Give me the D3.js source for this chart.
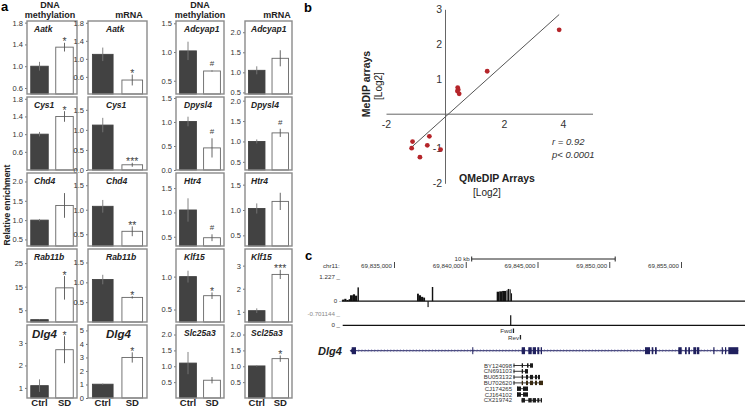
<!DOCTYPE html>
<html><head><meta charset="utf-8">
<script src="https://cdn.jsdelivr.net/npm/d3@7"></script>
<style>
body{margin:0;background:#fff}
svg{display:block;font-family:"Liberation Sans",Arial,sans-serif}
</style>
</head><body>
<svg id="fig" width="745" height="408"></svg>
<script>
// ================= Panel a data =================
const groups = ["Ctrl", "SD"];
const columnHeaders = [["DNA","methylation"],["mRNA"],["DNA","methylation"],["mRNA"]];
const geneNames = [
  "Aatk","Aatk","Adcyap1","Adcyap1",
  "Cys1","Cys1","Dpysl4","Dpysl4",
  "Chd4","Chd4","Htr4","Htr4",
  "Rab11b","Rab11b","Klf15","Klf15",
  "Dlg4","Dlg4","Slc25a3","Scl25a3"];
const ctrlMean = [1.00,1.10,1.02,1.05, 1.00,1.12,1.01,1.00, 1.00,1.07,1.05,1.03, 1.0,1.07,1.00,1.05, 1.10,1.02,1.10,1.01];
const ctrlErr  = [0.08,0.15,0.16,0.10, 0.05,0.18,0.10,0.05, 0.03,0.13,0.24,0.10, 0.2,0.12,0.09,0.10, 0.28,0.05,0.35,0.02];
const sdMean   = [1.35,0.53,0.67,1.35, 1.40,0.13,0.46,1.21, 1.38,0.56,0.48,1.17, 14.5,0.62,0.71,2.62, 2.70,3.00,0.56,1.24];
const sdErr    = [0.08,0.12,0.01,0.20, 0.12,0.05,0.20,0.10, 0.32,0.10,0.07,0.17, 5.0,0.03,0.05,0.20, 0.60,0.38,0.10,0.10];
const sigMarks = ["*","*","#","", "*","***","#","#", "","**","#","", "*","*","*","***", "*","*","","*"];
const yDomains = [
  [0.49,1.83],[0.22,1.84],[0.27,1.54],[0.46,2.28],
  [0.19,1.84],[0,1.82],[0,1.52],[0.3,2.09],
  [0.33,2.22],[0.26,1.75],[0.31,1.81],[0.29,1.73],
  [0,31],[0,1.84],[0.31,1.42],[0.56,3.72],
  [0.55,3.8],[0,5.4],[0,2.3],[0,2.3]];
const yTicks = [
  [0.6,1.0,1.4,1.8],[0.6,1.0,1.4,1.8],[0.5,1.0,1.5],[0.5,1.0,1.5,2.0],
  [0.6,1.0,1.4,1.8],[0,0.5,1.0,1.5],[0,0.5,1.0,1.5],[0.5,1.0,1.5,2.0],
  [0.5,1.0,1.5,2.0],[0.5,1.0,1.5],[0.5,1.0,1.5],[0.5,1.0,1.5],
  [5,15,25],[0.5,1.0,1.5],[0.5,1.0],[1,2,3],
  [1,2,3],[0,1,2,3,4,5],[0.5,1.0,1.5,2.0],[0.5,1.0,1.5,2.0]];

// ================= Panel b data =================
const qmedipX = [3.87,1.43,0.43,0.45,0.42,0.48,-1.10,-1.13,-0.53,-0.60,-0.85,-0.15];
const medipY  = [2.41,1.22,0.75,0.69,0.65,0.57,-0.80,-0.99,-0.65,-0.91,-1.25,-1.03];
const fitX = [-1.13, 3.87];
const fitY = [-0.96, 2.85];
const bXTicks = [-2, 2, 4];
const bYTicks = [-2, -1, 1, 2, 3];

// ================= Panel c data =================
const coordTicks = [69835000, 69840000, 69845000, 69850000, 69855000];
const scaleBarBp = [69840380, 69850380];
const signalStart = [69831350,69831500,69831650,69831800,69831900,69832100,69832250,69832420,
                     69836570,69836700,69836850,69837000,69837300,69837600,
                     69842120,69842300,69842500,69842800,69842890,69843030,69843120];
const signalEnd   = [69831500,69831650,69831800,69831900,69832100,69832250,69832400,69832520,
                     69836700,69836850,69837000,69837130,69837380,69837700,
                     69842300,69842500,69842770,69842880,69843000,69843100,69843190];
const signalVal   = [0.08,0.12,0.06,0.10,0.30,0.35,0.28,0.70,
                     0.38,0.30,0.22,0.18,-0.30,0.72,
                     0.48,0.50,0.52,0.55,0.62,0.60,0.40];
const primerMark = [69843098];
const geneSpan = [69832017, 69858958];
const exonStart = [69832017,69840420,69843864,69844324,69844631,69844951,69845188,69852456,69852923,69853153,69854777,69855244,69855474,69855822,69856059,69857216,69857801,69858031,69858261];
const exonEnd   = [69832317,69840490,69844094,69844561,69844861,69845091,69845279,69852805,69853035,69853272,69855014,69855362,69855592,69856010,69856241,69857300,69857885,69858115,69858958];
const transcripts = ["BY124098","CN691103","BU053132","BU702620","CJ174265","CJ164102","CX219742"];
const txStart = [69843293,69843293,69843293,69843293,69843537,69843537,69843864];
const txEnd   = [69844652,69844303,69845139,69845348,69844303,69844303,69845279];
const txExons = [
  [[69843864,69843955],[69844233,69844338],[69844442,69844652]],
  [[69843864,69843955],[69844094,69844303]],
  [[69843864,69843955],[69844163,69844303],[69844442,69844652],[69844791,69844930],[69845000,69845139]],
  [[69843864,69843955],[69844163,69844303],[69844442,69844652],[69844791,69844930],[69845070,69845348]],
  [[69843537,69843815],[69843955,69844303]],
  [[69843537,69843815],[69843955,69844303]],
  [[69843864,69844094],[69844324,69844561],[69844631,69844861],[69844951,69845091],[69845188,69845279]]];

// ================= Drawing =================
const svg = d3.select("#fig");
const txtCol = "#222";

// ---------- Panel a ----------
svg.append("text").attr("x",1).attr("y",11).attr("font-size",13).attr("font-weight","bold").text("a");
const colX = [27, 88, 176, 245], colW = [50, 59, 48, 47];
const rowY = [21, 97, 173, 249, 325], rowH = 73;
const headerCx = [50, 129, 200, 277];
const labelX = [34, 106, 184, 251];

columnHeaders.forEach((lines, c) => {
  const t = svg.append("text").attr("text-anchor","middle").attr("font-size",9).attr("font-weight","bold").attr("fill",txtCol);
  if (lines.length === 2) {
    t.append("tspan").attr("x",headerCx[c]).attr("y",8).text(lines[0]);
    t.append("tspan").attr("x",headerCx[c]).attr("y",17.5).text(lines[1]);
  } else {
    t.append("tspan").attr("x",headerCx[c]).attr("y",17.5).text(lines[0]);
  }
});

svg.append("text").attr("transform","translate(10,205) rotate(-90)").attr("text-anchor","middle")
  .attr("font-size",8.5).attr("font-weight","bold").attr("fill",txtCol).text("Relative enrichment");

geneNames.forEach((g, i) => {
  const r = Math.floor(i/4), c = i % 4;
  const x0 = colX[c], y0 = rowY[r], w = colW[c];
  const y = d3.scaleLinear().domain(yDomains[i]).range([y0 + rowH, y0]);
  const x = d3.scaleBand().domain(groups).range([x0, x0 + w]).paddingInner(0.3).paddingOuter(0.15);
  const allInt = yTicks[i].every(v => Number.isInteger(v)) && yDomains[i][1] > 3;
  const fmt = allInt ? d3.format("d") : d3.format(".1f");
  const ax = svg.append("g").attr("transform", `translate(${x0},0)`)
    .call(d3.axisLeft(y).tickValues(yTicks[i]).tickSize(2).tickPadding(2).tickFormat(fmt));
  ax.select(".domain").remove();
  ax.selectAll("line").attr("stroke","#777");
  ax.selectAll("text").attr("font-size",7.5).attr("fill","#333").attr("font-family","Liberation Sans, Arial, sans-serif");

  const vals = [ctrlMean[i], sdMean[i]], errs = [ctrlErr[i], sdErr[i]];
  const base = y(yDomains[i][0]);
  groups.forEach((gr, k) => {
    svg.append("rect").attr("x", x(gr)).attr("y", y(vals[k]))
      .attr("width", x.bandwidth()).attr("height", base - y(vals[k]))
      .attr("fill", k === 0 ? "#424242" : "#fff")
      .attr("stroke", k === 0 ? "#424242" : "#666").attr("stroke-width", 0.9);
    svg.append("line").attr("x1", x(gr) + x.bandwidth()/2).attr("x2", x(gr) + x.bandwidth()/2)
      .attr("y1", y(vals[k] - errs[k])).attr("y2", y(vals[k] + errs[k]))
      .attr("stroke", k === 0 ? "#777" : "#555").attr("stroke-width", 0.9);
  });
  // box
  svg.append("rect").attr("x", x0).attr("y", y0).attr("width", w).attr("height", rowH)
    .attr("fill","none").attr("stroke","#8a8a8a").attr("stroke-width",1.4);
  // gene label
  const big = g === "Dlg4";
  svg.append("text").attr("x", labelX[c] + (big && c === 0 ? -2 : 0)).attr("y", y0 + (big ? 13 : 10.5))
    .attr("font-size", big ? 11.5 : 8.5).attr("font-weight","bold").attr("font-style","italic")
    .attr("fill", txtCol).text(g);
  // significance
  const m = sigMarks[i];
  if (m) {
    const top = y(sdMean[i] + sdErr[i]);
    svg.append("text").attr("x", x("SD") + x.bandwidth()/2).attr("y", m === "#" ? top - 4 : top + 2.5)
      .attr("text-anchor","middle").attr("font-size", m === "#" ? 8 : 10.5).attr("fill","#444").text(m);
  }
  // x labels on last row
  if (r === 4) {
    groups.forEach(gr => {
      svg.append("text").attr("x", x(gr) + x.bandwidth()/2).attr("y", 406)
        .attr("text-anchor","middle").attr("font-size",9.5).attr("font-weight","bold").attr("fill",txtCol).text(gr);
    });
  }
});

// ---------- Panel b ----------
svg.append("text").attr("x",304).attr("y",12).attr("font-size",13).attr("font-weight","bold").text("b");
const bx = d3.scaleLinear().domain([-2, 5]).range([386, 592.5]);
const by = d3.scaleLinear().domain([-2, 3]).range([183.3, 9.3]);
const plainFmt = d => String(d);
const gxAx = svg.append("g").attr("transform", `translate(0,${by(0)})`)
  .call(d3.axisBottom(bx).tickValues(bXTicks).tickSize(0).tickPadding(5).tickSizeOuter(0).tickFormat(plainFmt));
const gyAx = svg.append("g").attr("transform", `translate(${bx(0)},0)`)
  .call(d3.axisLeft(by).tickValues(bYTicks).tickSize(0).tickPadding(3).tickSizeOuter(0).tickFormat(plainFmt));
[gxAx, gyAx].forEach(a => {
  a.select(".domain").attr("stroke","#666").attr("stroke-width",1);
  a.selectAll("text").attr("font-size",10.5).attr("fill","#333").attr("font-family","Liberation Sans, Arial, sans-serif");
});
gxAx.selectAll("text").attr("dy","0.85em");

svg.append("line").attr("x1", bx(fitX[0])).attr("y1", by(fitY[0])).attr("x2", bx(fitX[1])).attr("y2", by(fitY[1]))
  .attr("stroke","#555").attr("stroke-width",1);
svg.selectAll("circle.pt").data(qmedipX).enter().append("circle").attr("class","pt")
  .attr("cx", d => bx(d)).attr("cy", (d, i) => by(medipY[i])).attr("r", 2.4).attr("fill","#b5252a");

svg.append("text").attr("transform","translate(370,84) rotate(-90)").attr("text-anchor","middle")
  .attr("font-size",10.5).attr("font-weight","bold").attr("fill",txtCol).text("MeDIP arrays");
svg.append("text").attr("transform","translate(382,86) rotate(-90)").attr("text-anchor","middle")
  .attr("font-size",10).attr("fill",txtCol).text("[Log2]");
svg.append("text").attr("x",497).attr("y",182).attr("text-anchor","middle")
  .attr("font-size",10.5).attr("font-weight","bold").attr("fill",txtCol).text("QMeDIP Arrays");
svg.append("text").attr("x",487).attr("y",196).attr("text-anchor","middle")
  .attr("font-size",10).attr("fill",txtCol).text("[Log2]");
svg.append("text").attr("x",552).attr("y",145).attr("font-size",9.5).attr("font-style","italic").attr("fill","#333").text("r = 0.92");
svg.append("text").attr("x",552).attr("y",158).attr("font-size",9.5).attr("font-style","italic").attr("fill","#333").text("p< 0.0001");

// ---------- Panel c ----------
svg.append("text").attr("x",305).attr("y",260).attr("font-size",13).attr("font-weight","bold").text("c");
const gx = d3.scaleLinear().domain([69835000, 69855000]).range([394.5, 681.5]);
const small = 6.2;
svg.append("text").attr("x",323).attr("y",268).attr("font-size",small).attr("fill","#333").text("chr11:");
coordTicks.forEach(t => {
  svg.append("text").attr("x", gx(t) - 2.5).attr("y", 268).attr("text-anchor","end")
    .attr("font-size", small).attr("fill","#333").text(d3.format(",")(t));
  svg.append("line").attr("x1", gx(t)).attr("x2", gx(t)).attr("y1", 262).attr("y2", 268)
    .attr("stroke","#333").attr("stroke-width",0.9);
});
// scale bar
svg.append("line").attr("x1", gx(scaleBarBp[0])).attr("x2", gx(scaleBarBp[1])).attr("y1",259).attr("y2",259).attr("stroke","#222").attr("stroke-width",1);
scaleBarBp.forEach(b => svg.append("line").attr("x1", gx(b)).attr("x2", gx(b)).attr("y1",256.5).attr("y2",261.5).attr("stroke","#222").attr("stroke-width",1));
svg.append("text").attr("x", gx(scaleBarBp[0]) - 2).attr("y", 261).attr("text-anchor","end").attr("font-size",small).attr("fill","#333").text("10 kb");

// signal track
const ty = d3.scaleLinear().domain([-0.701144, 1.227]).range([315, 277]);
svg.append("text").attr("x",340).attr("y",279).attr("text-anchor","end").attr("font-size",small).attr("fill","#333").text("1.227 _");
svg.append("text").attr("x",341).attr("y",ty(0) + 2).attr("text-anchor","end").attr("font-size",small).attr("fill","#333").text("0 -");
svg.append("text").attr("x",340).attr("y",316).attr("text-anchor","end").attr("font-size",small).attr("fill","#888").text("-0.701144 _");
svg.selectAll("rect.sig").data(signalVal).enter().append("rect").attr("class","sig")
  .attr("x", (d, i) => gx(signalStart[i]))
  .attr("width", (d, i) => Math.max(0.9, gx(signalEnd[i]) - gx(signalStart[i])))
  .attr("y", d => Math.min(ty(d), ty(0)))
  .attr("height", d => Math.abs(ty(d) - ty(0)))
  .attr("fill","#111");
svg.append("line").attr("x1",341.7).attr("x2",745).attr("y1",ty(0)).attr("y2",ty(0)).attr("stroke","#111").attr("stroke-width",1.2);

// primer track
const p2 = 325.3;
svg.append("text").attr("x",340).attr("y",p2 + 1.5).attr("text-anchor","end").attr("font-size",small).attr("fill","#333").text("0 _");
svg.append("line").attr("x1",342.7).attr("x2",745).attr("y1",p2).attr("y2",p2).attr("stroke","#111").attr("stroke-width",1.2);
primerMark.forEach(p => svg.append("line").attr("x1",gx(p)).attr("x2",gx(p)).attr("y1",p2).attr("y2",p2 - 10).attr("stroke","#111").attr("stroke-width",1.2));
svg.append("text").attr("x",512).attr("y",333).attr("text-anchor","end").attr("font-size",small).attr("fill","#333").text("Fwd");
svg.append("rect").attr("x",512.8).attr("y",328.5).attr("width",1.3).attr("height",4.5).attr("fill","#222");
svg.append("text").attr("x",519).attr("y",339.5).attr("text-anchor","end").attr("font-size",small).attr("fill","#333").text("Rev");
svg.append("rect").attr("x",519.8).attr("y",335).attr("width",1.3).attr("height",4.5).attr("fill","#222");

// gene track
const gy = 350.7, navy = "#20205e";
svg.append("text").attr("x",318).attr("y",355).attr("font-size",11).attr("font-weight","bold").attr("font-style","italic").attr("fill",txtCol).text("Dlg4");
svg.append("line").attr("x1", gx(geneSpan[0])).attr("x2", gx(geneSpan[1])).attr("y1", gy).attr("y2", gy).attr("stroke", navy).attr("stroke-width", 1);
const chev = d3.range(gx(geneSpan[0]) + 6, gx(geneSpan[1]) - 2, 3.2);
svg.append("path").attr("d", chev.map(cx => `M${cx+1.3},${gy-1.4}L${cx},${gy}L${cx+1.3},${gy+1.4}`).join(""))
  .attr("fill","none").attr("stroke","#6a6aa8").attr("stroke-width",0.6);
svg.selectAll("rect.exon").data(exonStart).enter().append("rect").attr("class","exon")
  .attr("x", d => gx(d)).attr("width", (d, i) => Math.max(1, gx(exonEnd[i]) - gx(d)))
  .attr("y", gy - 3.5).attr("height", 7).attr("fill", navy);
// left arrowhead
svg.append("path").attr("d", `M${gx(geneSpan[0]) - 2},${gy}L${gx(geneSpan[0]) + 2},${gy - 3}L${gx(geneSpan[0]) + 2},${gy + 3}Z`).attr("fill", navy);

// transcripts
transcripts.forEach((t, i) => {
  const yy = 365.5 + i * 5.8;
  svg.append("text").attr("x", 512).attr("y", yy + 2).attr("text-anchor","end").attr("font-size", 6).attr("fill","#333").text(t);
  svg.append("line").attr("x1", gx(txStart[i])).attr("x2", gx(txEnd[i])).attr("y1", yy).attr("y2", yy).attr("stroke","#222").attr("stroke-width",0.9);
  svg.append("rect").attr("x", gx(txStart[i])).attr("y", yy - 2).attr("width", 1).attr("height", 4).attr("fill","#222");
  txExons[i].forEach(e => {
    svg.append("rect").attr("x", gx(e[0])).attr("y", yy - 2.2).attr("width", Math.max(1, gx(e[1]) - gx(e[0]))).attr("height", 4.4)
      .attr("fill", i === 3 ? "#3a2a10" : "#1a1a1a");
  });
});
</script>
</body></html>
